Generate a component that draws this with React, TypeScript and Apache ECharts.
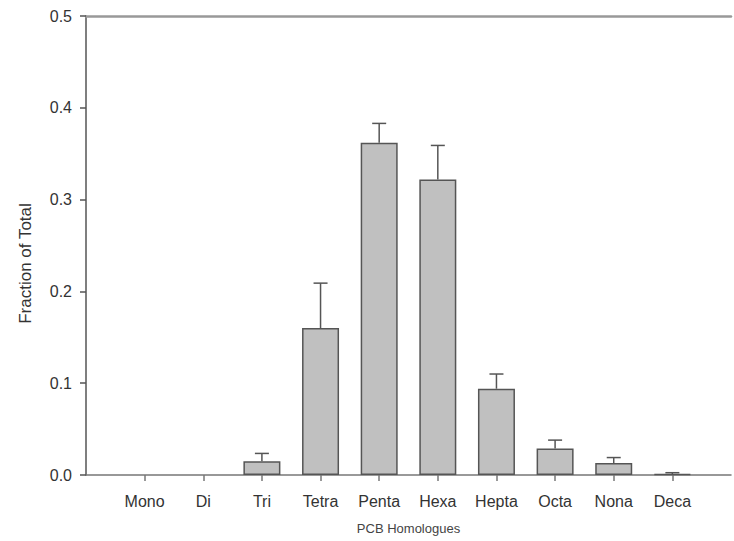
import React, { useEffect, useRef } from "react";
import * as echarts from "echarts";

const categories = ["Mono", "Di", "Tri", "Tetra", "Penta", "Hexa", "Hepta", "Octa", "Nona", "Deca"];
const fractions = [0, 0, 0.015, 0.16, 0.362, 0.322, 0.094, 0.029, 0.013, 0.001];
const upperErrors = [0, 0, 0.0235, 0.209, 0.383, 0.359, 0.110, 0.038, 0.019, 0.0025];
const yTicks = { min: 0, max: 0.5, interval: 0.1 };

const FONT = "Liberation Sans, Arial, sans-serif";

export default function App() {
  const ref = useRef<HTMLDivElement>(null);
  useEffect(() => {
    if (!ref.current) return;
    const chart = echarts.init(ref.current, undefined, { renderer: "svg" });
    const axisData = ["", ...categories, ""];
    const barData = categories.map((c, i) => ({
      value: [i + 1, fractions[i]],
      itemStyle: fractions[i] === 0 ? { borderWidth: 0, opacity: 0 } : undefined,
    }));
    const errData = categories
      .map((c, i) => [i + 1, fractions[i], upperErrors[i]])
      .filter((d) => d[2] > 0);
    chart.setOption({
      animation: false,
      backgroundColor: "#ffffff",
      grid: { left: 86, top: 16, right: -6, bottom: 66 },
      xAxis: [
        {
          type: "category",
          data: axisData,
          boundaryGap: false,
          axisLine: { lineStyle: { color: "#777", width: 1.5 } },
          axisTick: {
            show: true,
            length: 6,
            lineStyle: { color: "#777", width: 1.5 },
            interval: (idx: number) => idx > 0 && idx < axisData.length - 1,
          },
          axisLabel: {
            margin: 18,
            fontFamily: FONT,
            fontSize: 16,
            color: "#333",
            interval: 0,
          },
          name: "PCB Homologues",
          nameLocation: "middle",
          nameGap: 47,
          nameTextStyle: { fontFamily: FONT, fontSize: 13, color: "#444" },
          splitLine: { show: false },
        },
        {
          type: "value",
          position: "top",
          min: 0,
          max: 1,
          axisLine: { show: true, lineStyle: { color: "#999", width: 2.5 } },
          axisTick: { show: false },
          axisLabel: { show: false },
          splitLine: { show: false },
        },
      ],
      yAxis: {
        type: "value",
        min: yTicks.min,
        max: yTicks.max,
        interval: yTicks.interval,
        axisLine: { show: true, lineStyle: { color: "#555", width: 1.5 } },
        axisTick: { show: true, length: 6, lineStyle: { color: "#555", width: 1.5 } },
        axisLabel: {
          margin: 14,
          fontFamily: FONT,
          fontSize: 16,
          color: "#333",
          formatter: (v: number) => v.toFixed(1),
        },
        splitLine: { show: false },
        name: "Fraction of Total",
        nameLocation: "middle",
        nameGap: 52,
        nameTextStyle: { fontFamily: FONT, fontSize: 17, color: "#333", padding: [0, 36, 0, 0] },
      },
      series: [
        {
          type: "bar",
          xAxisIndex: 0,
          data: barData,
          barWidth: 37,
          itemStyle: { color: "#c0c0c0", borderColor: "#555", borderWidth: 1.5 },
        },
        {
          type: "custom",
          xAxisIndex: 0,
          data: errData,
          z: 1,
          renderItem: (params: any, api: any) => {
            const x = api.value(0);
            const top = api.coord([x, api.value(1)]);
            const hi = api.coord([x, api.value(2)]);
            const capHalf = 7;
            const style = { stroke: "#555", lineWidth: 1.5 };
            return {
              type: "group",
              children: [
                { type: "line", shape: { x1: top[0], y1: top[1], x2: hi[0], y2: hi[1] }, style },
                { type: "line", shape: { x1: hi[0] - capHalf, y1: hi[1], x2: hi[0] + capHalf, y2: hi[1] }, style },
              ],
            };
          },
        },
      ],
    });
    return () => chart.dispose();
  }, []);
  return (
    <div
      ref={ref}
      style={{ position: "fixed", left: 0, top: 0, width: 734, height: 541, background: "#fff" }}
    />
  );
}
